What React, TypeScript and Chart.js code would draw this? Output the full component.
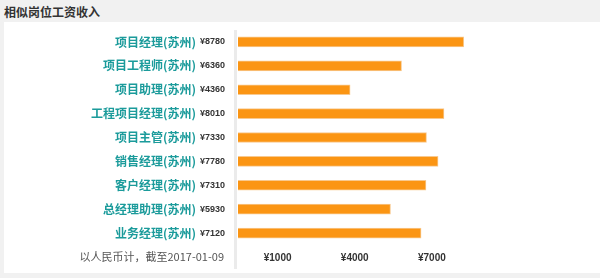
import React, { useEffect, useRef } from "react";
import { Chart, registerables } from "chart.js";

Chart.register(...registerables);

const categories = [
  "项目经理(苏州)",
  "项目工程师(苏州)",
  "项目助理(苏州)",
  "工程项目经理(苏州)",
  "项目主管(苏州)",
  "销售经理(苏州)",
  "客户经理(苏州)",
  "总经理助理(苏州)",
  "业务经理(苏州)",
];
const salaries = [8780, 6360, 4360, 8010, 7330, 7780, 7310, 5930, 7120];
const xTicks = [1000, 4000, 7000];
const titleText = "相似岗位工资收入";
const noteText = "以人民币计，截至2017-01-09";

const CJK = '"Noto Sans CJK SC", "Microsoft YaHei", sans-serif';
const LAT = '"Liberation Sans", Arial, sans-serif';

const sideLine = {
  id: "sideLine",
  beforeDraw(chart: any) {
    const { ctx, chartArea } = chart;
    ctx.save();
    ctx.strokeStyle = "#ebebeb";
    ctx.lineWidth = 3;
    ctx.beginPath();
    const x = chartArea.left - 2.5;
    ctx.moveTo(x, chartArea.top);
    ctx.lineTo(x, chart.height - 4);
    ctx.stroke();
    ctx.restore();
  },
};

export default function App() {
  const ref = useRef<HTMLCanvasElement | null>(null);
  useEffect(() => {
    document.body.style.margin = "0";
    const canvas = ref.current!;
    const chart = new Chart(canvas, {
      type: "bar",
      data: {
        labels: categories,
        datasets: [
          {
            data: salaries,
            yAxisID: "y",
            backgroundColor: "#fb9513",
            borderColor: "#f8c98f",
            borderWidth: 1,
            barThickness: 10,
          },
        ],
      },
      options: {
        indexAxis: "y",
        animation: false,
        responsive: false,
        layout: { padding: { top: 8, bottom: 2, left: 0, right: 2 } },
        plugins: { legend: { display: false }, tooltip: { enabled: false } },
        scales: {
          x: {
            type: "linear",
            min: 0,
            max: 14000,
            grid: { display: false, drawTicks: false },
            border: { display: false },
            afterBuildTicks: (scale: any) => {
              scale.ticks = xTicks.map((v) => ({ value: v }));
            },
            afterFit: (scale: any) => {
              scale.paddingLeft = 0;
              scale.paddingRight = 0;
            },
            ticks: {
              align: "start",
              padding: 7,
              color: "#333",
              font: { family: LAT, size: 10, weight: "bold" },
              callback: (v: any) => "¥" + v,
            },
          },
          yv: {
            type: "category",
            position: "left",
            weight: 0,
            offset: true,
            labels: salaries.map((v) => "¥" + v),
            grid: { display: false, drawTicks: false },
            border: { display: false },
            afterFit: (scale: any) => {
              scale.width = 40;
              scale.paddingTop = 0;
              scale.paddingBottom = 0;
            },
            ticks: {
              padding: 13,
              color: "#333",
              font: { family: LAT, size: 9, weight: "bold" },
            },
          },
          y: {
            type: "category",
            position: "left",
            weight: 1,
            offset: true,
            grid: { display: false, drawTicks: false },
            border: { display: false },
            afterFit: (scale: any) => {
              scale.width = 194;
              scale.paddingTop = 0;
              scale.paddingBottom = 0;
            },
            ticks: {
              padding: 2,
              color: "#1b9b9b",
              font: { family: CJK, size: 12, weight: "bold" },
            },
          },
        },
      },
      plugins: [sideLine],
    } as any);
    return () => chart.destroy();
  }, []);

  return (
    <div
      style={{
        position: "fixed",
        left: 0,
        top: 0,
        width: 600,
        height: 278,
        background: "#f1f1f1",
        overflow: "hidden",
      }}
    >
      <div
        style={{
          position: "absolute",
          left: 4,
          top: 3,
          fontFamily: CJK,
          fontSize: 12,
          fontWeight: "bold",
          color: "#333",
          lineHeight: "17px",
        }}
      >
        {titleText}
      </div>
      <div
        style={{
          position: "absolute",
          left: 4,
          top: 22,
          width: 596,
          height: 251,
          background: "#fff",
        }}
      >
        <canvas
          ref={ref}
          width={596}
          height={251}
          style={{ display: "block", width: 596, height: 251 }}
        />
        <div
          style={{
            position: "absolute",
            right: 596 - 220,
            top: 226,
            fontFamily: CJK,
            fontSize: 11,
            color: "#555",
            lineHeight: "16px",
            whiteSpace: "nowrap",
          }}
        >
          {noteText}
        </div>
      </div>
    </div>
  );
}
